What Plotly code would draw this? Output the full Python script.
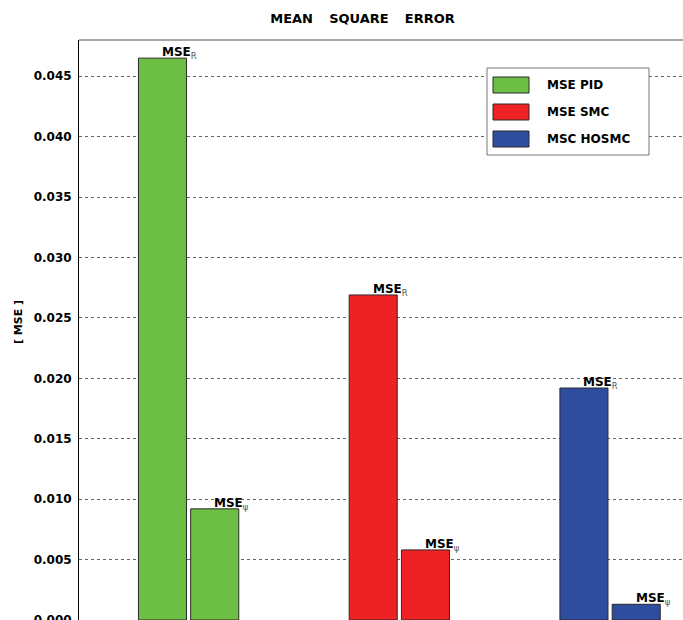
import plotly.graph_objects as go

# ---- data ----
controllers = ["PID", "SMC", "HOSMC"]
series_names = ["MSE PID", "MSE SMC", "MSC HOSMC"]
mse_r = [0.0465, 0.0269, 0.0192]
mse_psi = [0.0092, 0.0058, 0.0013]
y_ticks = [0.000, 0.005, 0.010, 0.015, 0.020, 0.025, 0.030, 0.035, 0.040, 0.045]
sub_labels = ["R", "ψ"]

# ---- styles ----
colors = ["#6CBE45", "#EE2224", "#2E4D9F"]
W, H = 683, 620
ML, MT = 79, 40
PW, PH = W - ML, H - MT
bar_w = 0.228
offsets = [-0.238, 0.010]
FONT = "DejaVu Sans"


def px_x(p):  # screen pixel -> paper x
    return (p - ML) / PW


def px_y(p):  # screen pixel -> paper y
    return (H - p) / PH


fig = go.Figure()
for i, (c, name) in enumerate(zip(controllers, series_names)):
    fig.add_trace(go.Bar(
        x=[c, c], y=[mse_r[i], mse_psi[i]], name=name,
        width=bar_w, offset=offsets,
        marker=dict(color=colors[i], line=dict(color="#2a2a2a", width=1)),
        showlegend=False,
    ))

annotations = []
for i in range(len(controllers)):
    for j, val in enumerate([mse_r[i], mse_psi[i]]):
        xpos = i + offsets[j] + bar_w / 2 - 0.012
        annotations.append(dict(
            x=xpos, y=val, xref="x", yref="y", xanchor="left", yanchor="bottom",
            text="<b>MSE</b><sub><span style='color:#555555'>%s</span></sub>" % sub_labels[j],
            showarrow=False, yshift=-5,
            font=dict(family=FONT, size=12, color="black"),
        ))

# y-axis label
annotations.append(dict(
    x=px_x(18), y=px_y(322), xref="paper", yref="paper", text="<b>[ MSE ]</b>",
    textangle=-90, showarrow=False, font=dict(family=FONT, size=11, color="black"),
    xanchor="center", yanchor="middle",
))

shapes = [
    # top frame line
    dict(type="line", xref="paper", yref="paper", x0=0, x1=1, y0=1, y1=1,
         line=dict(color="#888888", width=1.5)),
    # legend box
    dict(type="rect", xref="paper", yref="paper",
         x0=px_x(487), x1=px_x(649), y0=px_y(155), y1=px_y(68),
         fillcolor="white", line=dict(color="#777777", width=1), layer="above"),
]
for k, name in enumerate(series_names):
    top = 77 + 27 * k
    shapes.append(dict(type="rect", xref="paper", yref="paper",
                       x0=px_x(493), x1=px_x(529), y0=px_y(top + 16), y1=px_y(top),
                       fillcolor=colors[k], line=dict(color="#2a2a2a", width=1),
                       layer="above"))
    annotations.append(dict(
        x=px_x(545), y=px_y(top + 8), xref="paper", yref="paper",
        xanchor="left", yanchor="middle", text="<b>%s</b>" % name,
        showarrow=False, font=dict(family=FONT, size=12, color="black"),
    ))

gap = "\u00a0\u00a0\u00a0\u2009"
fig.update_layout(
    width=W, height=H,
    margin=dict(l=ML, r=0, t=MT, b=0, pad=0, autoexpand=False),
    paper_bgcolor="white", plot_bgcolor="white",
    barmode="overlay",
    title=dict(text="<b>MEAN%sSQUARE%sERROR</b>" % (gap, gap),
               x=362.5 / W, xref="container", xanchor="center",
               y=1 - 18 / H, yref="container", yanchor="middle",
               font=dict(family=FONT, size=13, color="black")),
    xaxis=dict(type="category", categoryarray=controllers, range=[-0.52, 2.346],
               showticklabels=False, showgrid=False, zeroline=False, showline=False,
               ticks="", automargin=False),
    yaxis=dict(range=[0, 0.048], tickvals=y_ticks, tickformat=".3f",
               showgrid=True, gridcolor="#666666", griddash="3px,3px", gridwidth=1,
               zeroline=False, showline=True, linecolor="black", linewidth=1,
               ticks="", ticklabelstandoff=4, ticklabeloverflow="allow",
               automargin=False,
               tickfont=dict(family=FONT, size=12, color="black", weight="bold")),
    shapes=shapes,
    annotations=annotations,
)

fig.write_html(
    "out.html",
    config={"displayModeBar": False},
    post_script="document.body.style.margin='0';document.body.style.overflow='hidden';",
)
